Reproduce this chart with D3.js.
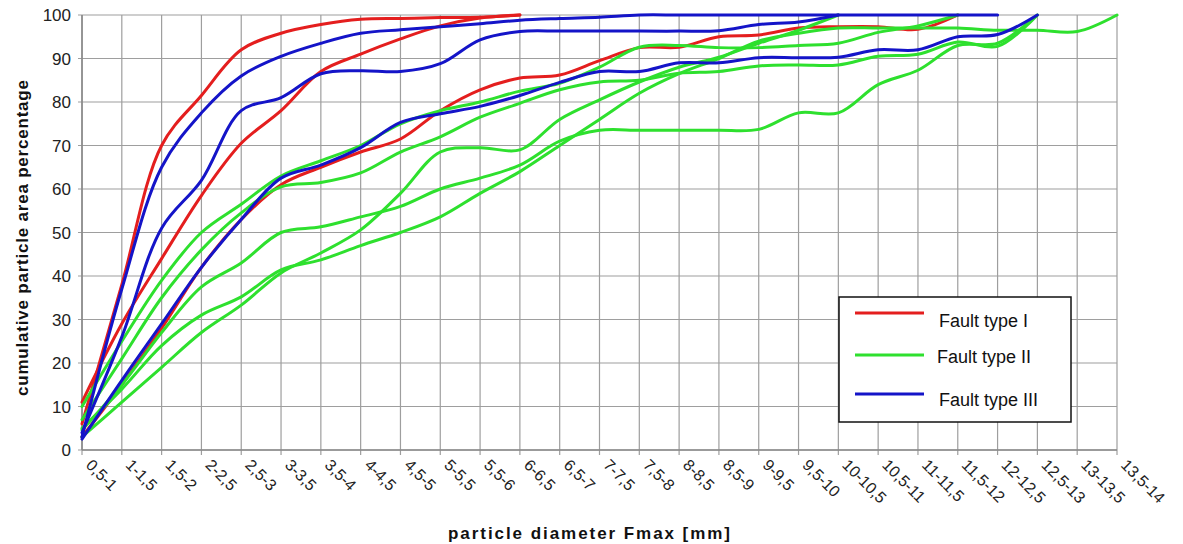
<!DOCTYPE html>
<html>
<head>
<meta charset="utf-8">
<script src="https://cdn.jsdelivr.net/npm/d3@7/dist/d3.min.js"></script>
<style>
  html, body { margin: 0; padding: 0; background: #ffffff; }
  svg { display: block; font-family: Arial, "Liberation Sans", sans-serif; }
</style>
</head>
<body>
<svg id="chart" width="1183" height="544"></svg>
<script>
// ---------- data ----------
const categories = ["0,5-1","1-1,5","1,5-2","2-2,5","2,5-3","3-3,5","3,5-4","4-4,5","4,5-5","5-5,5",
  "5,5-6","6-6,5","6,5-7","7-7,5","7,5-8","8-8,5","8,5-9","9-9,5","9,5-10","10-10,5",
  "10,5-11","11-11,5","11,5-12","12-12,5","12,5-13","13-13,5","13,5-14"];
const yTicks = [0, 10, 20, 30, 40, 50, 60, 70, 80, 90, 100];

// Fault type I (red)
const red1 = [6, 38, 70, 81.5, 92, 95.8, 97.8, 99, 99.2, 99.4, 99.5, 100];
const red2 = [11, 29, 44, 58.5, 70.5, 78, 87, 91, 94.5, 97.5, 99.3, 100];
const red3 = [3, 15, 28, 42, 53, 61, 65, 68.5, 71.5, 78, 82.8, 85.5, 86.2, 89.5, 92.5, 92.6, 95, 95.4, 97, 97.3, 97.3, 96.7, 100];

// Fault type II (green)
const green1 = [10, 25, 39, 50, 56.5, 63, 66.5, 70, 75, 78, 80, 82.5, 84.3, 88, 92.6, 93, 92.5, 92.5, 93, 93.5, 96, 97.5, 100];
const green2 = [7, 21, 35, 46, 54.5, 60.5, 61.5, 63.7, 68.5, 72, 76.5, 79.7, 82.8, 84.6, 85, 86.6, 87, 88.3, 88.5, 88.5, 90.5, 91, 93.8, 92.8, 100];
const green3 = [5, 14, 24, 31, 35.2, 41.4, 43.7, 47, 50, 53.6, 59, 64, 70, 76, 82, 86.5, 90, 94, 95.8, 97, 97, 97, 97, 96.5, 96.5, 96.2, 100];
const green4 = [3, 11, 19, 27, 33.3, 40.7, 45.3, 50.6, 59, 68.5, 69.5, 69, 76, 80.5, 84.6, 88, 90.3, 93.5, 96.5, 100];
const green5 = [4.6, 15, 27, 37.5, 43, 50, 51.3, 53.6, 56, 60, 62.5, 65.5, 71, 73.5, 73.5, 73.5, 73.5, 73.7, 77.5, 77.5, 84, 87.3, 93, 93.5, 100];

// Fault type III (blue)
const blue1 = [3, 37, 65, 77.5, 86, 90.5, 93.5, 95.8, 96.6, 97.3, 98, 98.8, 99.2, 99.5, 100, 100, 100, 100, 100, 100, 100, 100, 100, 100];
const blue2 = [4, 26, 51, 62, 78, 81, 86.5, 87.2, 87, 88.8, 94.3, 96.2, 96.3, 96.3, 96.3, 96.3, 96.4, 97.8, 98.4, 100];
const blue3 = [2.5, 16, 29, 42, 53, 62.5, 65.5, 69.5, 75.3, 77.3, 79, 81.5, 84.5, 87, 87, 89, 89, 90.2, 90.2, 90.3, 92, 92, 95, 95.5, 100];

const legendLabels = ["Fault type I", "Fault type II", "Fault type III"];
const colors = { red: "#e41e1e", green: "#2ee02e", blue: "#1414c8" };

const seriesList = [
  { values: red1, color: colors.red }, { values: red2, color: colors.red }, { values: red3, color: colors.red },
  { values: green1, color: colors.green }, { values: green2, color: colors.green }, { values: green3, color: colors.green },
  { values: green4, color: colors.green }, { values: green5, color: colors.green },
  { values: blue1, color: colors.blue }, { values: blue2, color: colors.blue }, { values: blue3, color: colors.blue }
];

// ---------- layout ----------
const svg = d3.select("#chart");
const plot = { left: 82, right: 1117, top: 15, bottom: 450 };

const x = d3.scalePoint().domain(categories).range([plot.left, plot.right]);
const y = d3.scaleLinear().domain([0, 100]).range([plot.bottom, plot.top]);

svg.append("rect").attr("width", 1183).attr("height", 544).attr("fill", "#ffffff");

// grid
const grid = svg.append("g");
grid.selectAll("line.h").data(yTicks).enter().append("line")
  .attr("x1", plot.left - 4).attr("x2", plot.right)
  .attr("y1", d => y(d)).attr("y2", d => y(d))
  .attr("stroke", "#9e9e9e").attr("stroke-width", 1.2);
grid.selectAll("line.v").data(categories).enter().append("line")
  .attr("x1", d => x(d)).attr("x2", d => x(d))
  .attr("y1", plot.top).attr("y2", plot.bottom + 5)
  .attr("stroke", "#9e9e9e").attr("stroke-width", 1.2);

// axis lines
svg.append("line").attr("x1", plot.left).attr("x2", plot.left).attr("y1", plot.top).attr("y2", plot.bottom)
  .attr("stroke", "#8a8a8a").attr("stroke-width", 1.6);
svg.append("line").attr("x1", plot.left).attr("x2", plot.right).attr("y1", plot.bottom).attr("y2", plot.bottom)
  .attr("stroke", "#8a8a8a").attr("stroke-width", 1.6);

// y tick labels
svg.append("g").selectAll("text").data(yTicks).enter().append("text")
  .attr("x", 71).attr("y", d => y(d)).attr("dy", "0.36em")
  .attr("text-anchor", "end").attr("font-size", 17).attr("fill", "#222")
  .text(d => d);

// x tick labels
svg.append("g").selectAll("text").data(categories).enter().append("text")
  .attr("transform", d => `translate(${x(d) + 3},466) rotate(45)`)
  .attr("text-anchor", "start").attr("font-size", 16).attr("fill", "#222")
  .text(d => d);

// axis titles
svg.append("text")
  .attr("x", 589).attr("y", 539).attr("text-anchor", "middle")
  .attr("font-size", 17).attr("font-weight", "bold").attr("fill", "#111")
  .attr("textLength", 282).attr("lengthAdjust", "spacing")
  .text("particle diameter Fmax [mm]");
svg.append("text")
  .attr("transform", "translate(28,238) rotate(-90)")
  .attr("text-anchor", "middle")
  .attr("font-size", 17).attr("font-weight", "bold").attr("fill", "#111")
  .attr("textLength", 316).attr("lengthAdjust", "spacing")
  .text("cumulative particle area percentage");

// lines
const line = d3.line()
  .x((d, i) => x(categories[i]))
  .y(d => y(d))
  .curve(d3.curveCatmullRom.alpha(0.5));

svg.append("g").selectAll("path").data(seriesList).enter().append("path")
  .attr("d", s => line(s.values))
  .attr("fill", "none")
  .attr("stroke", s => s.color)
  .attr("stroke-width", 3)
  .attr("stroke-linejoin", "round")
  .attr("stroke-linecap", "round");

// legend
const lg = svg.append("g");
lg.append("rect").attr("x", 839).attr("y", 297).attr("width", 232).attr("height", 125)
  .attr("fill", "#ffffff").attr("stroke", "#111").attr("stroke-width", 1.5);
const legendItems = [
  { label: legendLabels[0], color: colors.red, ly: 313, ty: 327, tx: 939 },
  { label: legendLabels[1], color: colors.green, ly: 355, ty: 363, tx: 937 },
  { label: legendLabels[2], color: colors.blue, ly: 394, ty: 406, tx: 939 }
];
legendItems.forEach(it => {
  lg.append("line").attr("x1", 855).attr("x2", 924).attr("y1", it.ly).attr("y2", it.ly)
    .attr("stroke", it.color).attr("stroke-width", 3);
  lg.append("text").attr("x", it.tx).attr("y", it.ty)
    .attr("font-size", 18).attr("fill", "#111").text(it.label);
});
</script>
</body>
</html>
